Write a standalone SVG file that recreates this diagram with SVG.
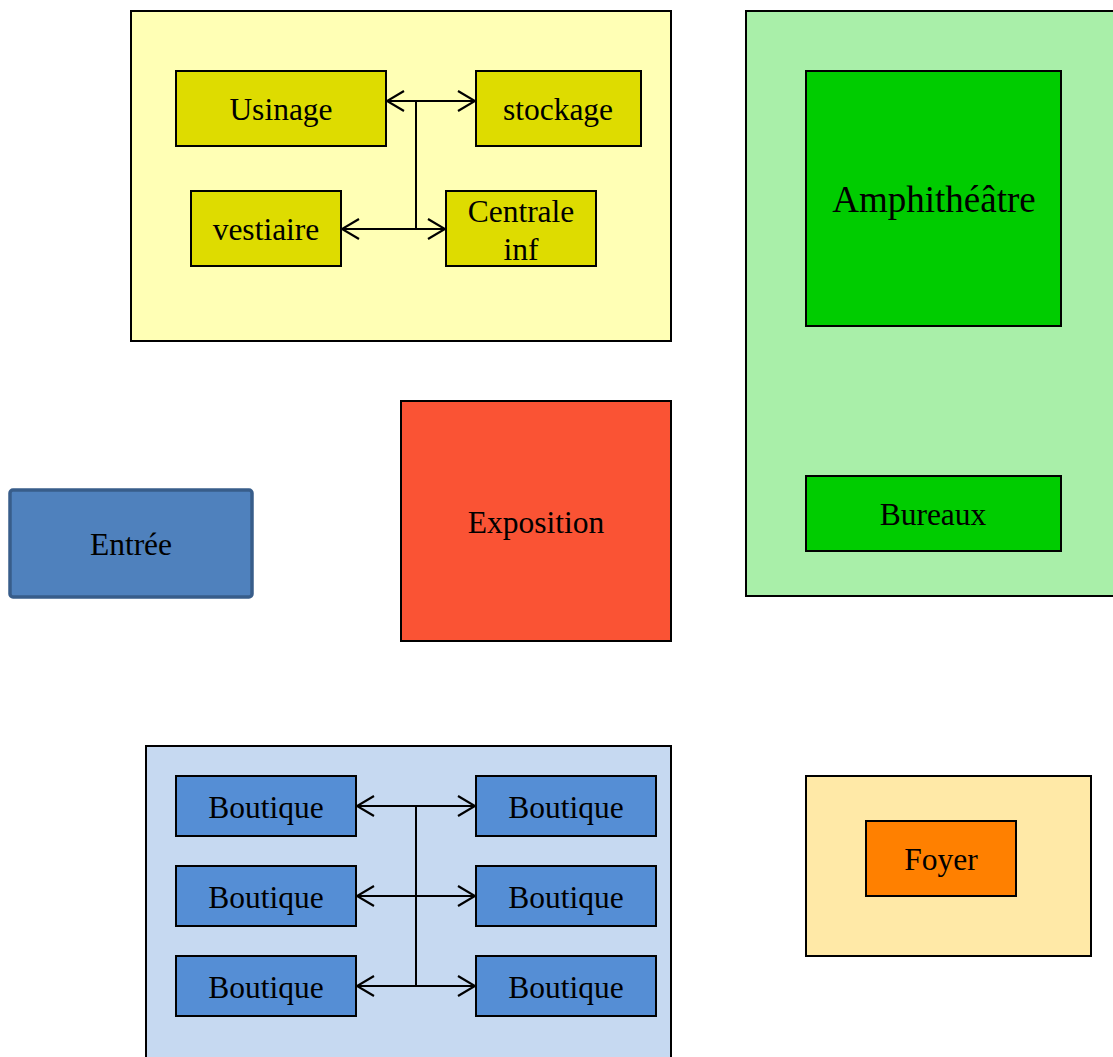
<svg xmlns="http://www.w3.org/2000/svg" width="1113" height="1057" viewBox="0 0 1113 1057">
<style>
text{font-family:"Liberation Serif","Times New Roman",serif;fill:#000;text-anchor:middle;font-size:31.5px}
.box{stroke:#000;stroke-width:2}
.c{fill:none;stroke:#000;stroke-width:2}
</style>
<defs>
<marker id="ah" viewBox="0 0 20 24" refX="19" refY="12" markerWidth="20" markerHeight="24" markerUnits="userSpaceOnUse" orient="auto-start-reverse">
<path d="M1,2 L18,12 L1,22" fill="none" stroke="#000" stroke-width="2.2"/>
</marker>
</defs>
<rect width="1113" height="1057" fill="#fff"/>
<g id="zone-atelier">
<rect class="box" x="131" y="11" width="540" height="330" fill="#FFFFB5"/>
</g>
<g id="usinage"><rect class="box" x="176" y="71" width="210" height="75" fill="#DEDC00"/><text x="281" y="120">Usinage</text></g>
<g id="stockage"><rect class="box" x="476" y="71" width="165" height="75" fill="#DEDC00"/><text x="558" y="120">stockage</text></g>
<g id="vestiaire"><rect class="box" x="191" y="191" width="150" height="75" fill="#DEDC00"/><text x="266" y="240">vestiaire</text></g>
<g id="centrale"><rect class="box" x="446" y="191" width="150" height="75" fill="#DEDC00"/><text x="521" y="222">Centrale</text><text x="521" y="260">inf</text></g>
<g id="zone-amphi"><rect class="box" x="746" y="11" width="380" height="585" fill="#A9EFA9"/></g>
<g id="amphitheatre"><rect class="box" x="806" y="71" width="255" height="255" fill="#00CC00"/><text x="934" y="212" style="font-size:37px">Amphithéâtre</text></g>
<g id="bureaux"><rect class="box" x="806" y="476" width="255" height="75" fill="#00CC00"/><text x="933" y="525">Bureaux</text></g>
<g id="entree"><rect x="10" y="490" width="242" height="107" rx="3" fill="#4F81BD" stroke="#385D8A" stroke-width="3.5"/><text x="131" y="555">Entrée</text></g>
<g id="exposition"><rect class="box" x="401" y="401" width="270" height="240" fill="#FA5334"/><text x="536" y="533">Exposition</text></g>
<g id="zone-boutiques"><rect class="box" x="146" y="746" width="525" height="330" fill="#C6D9F1"/></g>
<g id="boutique1"><rect class="box" x="176" y="776" width="180" height="60" fill="#558ED5"/><text x="266" y="818">Boutique</text></g>
<g id="boutique2"><rect class="box" x="476" y="776" width="180" height="60" fill="#558ED5"/><text x="566" y="818">Boutique</text></g>
<g id="boutique3"><rect class="box" x="176" y="866" width="180" height="60" fill="#558ED5"/><text x="266" y="908">Boutique</text></g>
<g id="boutique4"><rect class="box" x="476" y="866" width="180" height="60" fill="#558ED5"/><text x="566" y="908">Boutique</text></g>
<g id="boutique5"><rect class="box" x="176" y="956" width="180" height="60" fill="#558ED5"/><text x="266" y="998">Boutique</text></g>
<g id="boutique6"><rect class="box" x="476" y="956" width="180" height="60" fill="#558ED5"/><text x="566" y="998">Boutique</text></g>
<g id="zone-foyer"><rect class="box" x="806" y="776" width="285" height="180" fill="#FFE9A7"/></g>
<g id="foyer"><rect class="box" x="866" y="821" width="150" height="75" fill="#FF8000"/><text x="941" y="870">Foyer</text></g>
<g id="connectors">
<line class="c" x1="386" y1="101" x2="476" y2="101" marker-start="url(#ah)" marker-end="url(#ah)"/>
<line class="c" x1="416" y1="101" x2="416" y2="229"/>
<line class="c" x1="341" y1="229" x2="446" y2="229" marker-start="url(#ah)" marker-end="url(#ah)"/>
<line class="c" x1="416" y1="806" x2="416" y2="986"/>
<line class="c" x1="356" y1="806" x2="476" y2="806" marker-start="url(#ah)" marker-end="url(#ah)"/>
<line class="c" x1="356" y1="896" x2="476" y2="896" marker-start="url(#ah)" marker-end="url(#ah)"/>
<line class="c" x1="356" y1="986" x2="476" y2="986" marker-start="url(#ah)" marker-end="url(#ah)"/>
</g>
</svg>
